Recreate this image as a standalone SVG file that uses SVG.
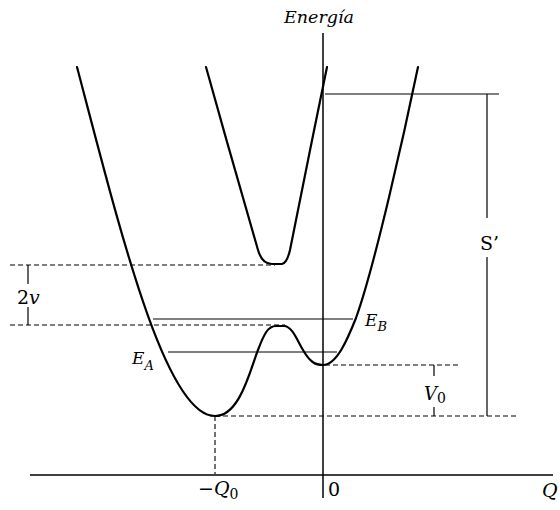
<svg xmlns="http://www.w3.org/2000/svg" width="560" height="510" viewBox="0 0 560 510">
<style>
.curve{fill:none;stroke:#000;stroke-width:2.2;stroke-linejoin:round;stroke-linecap:round}
.axis{fill:none;stroke:#000;stroke-width:1.5}
.thin{fill:none;stroke:#000;stroke-width:1.2}
.dash{fill:none;stroke:#000;stroke-width:1.1;stroke-dasharray:5 3}
.t{font-family:"DejaVu Serif","Liberation Serif",serif;fill:#000}
.i{font-style:italic}
</style>
<rect width="560" height="510" fill="#fff"/>
<g id="axes">
<line class="axis" x1="323" y1="33" x2="323" y2="498"/>
<line class="axis" x1="30" y1="475" x2="553" y2="475"/>
</g>
<g id="ground-curve">
<path class="curve" d="M77,67 C120,230 165,416 215,416 C240,416 250,370 258,350 C264,334 268,326 276,326 L284,326 C292,326 297,340 303,350 C310,362 315,365 323,365 C337,365 348,338 356,318 C375,265 405,130 418,67"/>
</g>
<g id="excited-curve">
<path class="curve" d="M206,67 C222,125 245,205 258,250 Q262,264 272,264 L282,264 Q287,263 290,250 C300,200 315,125 327,67"/>
</g>
<g id="connectors">
<line class="thin" x1="325" y1="94" x2="499" y2="94"/>
<line class="thin" x1="487" y1="94" x2="487" y2="218"/>
<line class="thin" x1="487" y1="257" x2="487" y2="416"/>
<line class="dash" x1="10" y1="265" x2="275" y2="265"/>
<line class="dash" x1="10" y1="325" x2="285" y2="325"/>
<line class="thin" x1="28" y1="265" x2="28" y2="284"/>
<line class="thin" x1="28" y1="307" x2="28" y2="325"/>
<line class="thin" x1="153" y1="319" x2="353" y2="319"/>
<line class="thin" x1="168" y1="352" x2="337" y2="352"/>
<line class="dash" x1="325" y1="365" x2="460" y2="365"/>
<line class="thin" x1="434" y1="365" x2="434" y2="376"/>
<line class="thin" x1="434" y1="407" x2="434" y2="416"/>
<line class="dash" x1="215" y1="416" x2="518" y2="416"/>
<line class="dash" x1="215" y1="416" x2="215" y2="474"/>
</g>
<g id="labels">
<text class="t i" x="284" y="23" font-size="17.5">Energía</text>
<text class="t" x="17" y="304" font-size="19">2<tspan class="i">v</tspan></text>
<text class="t i" x="365" y="326" font-size="17">E<tspan font-size="13" dy="5">B</tspan></text>
<text class="t i" x="132" y="364" font-size="17">E<tspan font-size="13" dy="6">A</tspan></text>
<text class="t i" x="424" y="400" font-size="18">V<tspan class="t" font-style="normal" font-size="14" dy="3">0</tspan></text>
<text class="t" x="480" y="250" font-size="19">S’</text>
<text class="t" x="198" y="495" font-size="19">−<tspan class="i">Q</tspan><tspan font-size="14" dy="4">0</tspan></text>
<text class="t" x="328" y="496" font-size="19">0</text>
<text class="t i" x="542" y="497" font-size="19">Q</text>
</g>
</svg>
